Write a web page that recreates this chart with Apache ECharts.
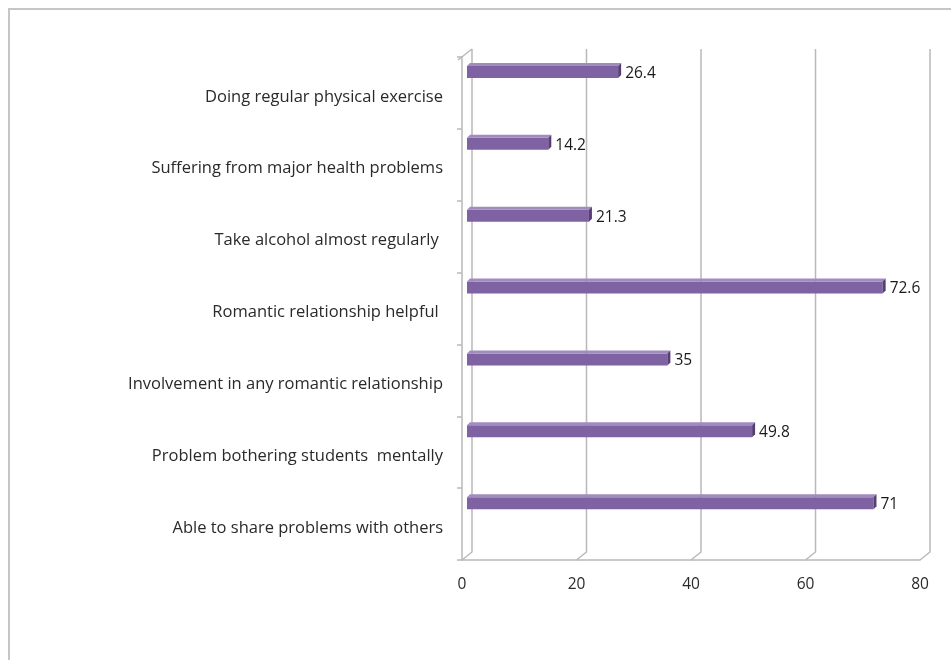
<!DOCTYPE html>
<html>
<head>
<meta charset="utf-8">
<script src="https://cdn.jsdelivr.net/npm/echarts@6/dist/echarts.min.js"></script>
<style>
html,body{margin:0;padding:0;background:#fff;}
#chart{width:951px;height:660px;}
</style>
</head>
<body>
<div id="chart"></div>
<script>
// Categories listed bottom to top
const categories = [
  'Able to share problems with others',
  'Problem bothering students  mentally',
  'Involvement in any romantic relationship',
  'Romantic relationship helpful ',
  'Take alcohol almost regularly ',
  'Suffering from major health problems',
  'Doing regular physical exercise'
];
const values = [71, 49.8, 35, 72.6, 21.3, 14.2, 26.4];
const xTicks = [0, 20, 40, 60, 80];

const FONT = '"Open Sans", sans-serif';
const GRID_COLOR = '#b9b9b9';
const DX = 10, DY = 8; // 3D depth offset of the back wall

const chart = echarts.init(document.getElementById('chart'));

chart.setOption({
  animation: false,
  backgroundColor: '#ffffff',
  graphic: [{
    type: 'rect',
    shape: { x: 9, y: 9, width: 1000, height: 700 },
    style: { fill: 'none', stroke: '#c6c6c6', lineWidth: 2 },
    silent: true
  }],
  grid: { left: 462, right: 31, top: 57, bottom: 100 },
  xAxis: {
    type: 'value',
    min: 0, max: 80, interval: 20,
    splitLine: { show: false },
    axisLine: { show: true, lineStyle: { color: GRID_COLOR, width: 1.5 } },
    axisTick: { show: false },
    axisLabel: { margin: 17, color: '#2a2a2a', fontSize: 15.5, fontFamily: FONT }
  },
  yAxis: {
    type: 'category',
    data: categories,
    axisLine: { show: true, lineStyle: { color: GRID_COLOR, width: 1.5 } },
    axisTick: { show: true, length: 5, lineStyle: { color: GRID_COLOR, width: 1.5 } },
    axisLabel: {
      margin: 19,
      formatter: function (v) { return '{s| }\n{t|' + v + '}'; },
      rich: {
        s: { fontSize: 4, lineHeight: 8 },
        t: { fontSize: 16.5, lineHeight: 20, color: '#2a2a2a', fontFamily: FONT }
      }
    },
    splitLine: { show: false }
  },
  series: [
    {
      type: 'custom',
      name: 'walls',
      silent: true,
      clip: false,
      z: 1,
      data: xTicks.map(v => [v, 0]),
      encode: { x: 0, y: 1 },
      renderItem: function (params, api) {
        const v = api.value(0);
        const cs = params.coordSys;
        const x = api.coord([v, 0])[0];
        const top = cs.y, bottom = cs.y + cs.height;
        const children = [{
          type: 'polyline',
          shape: { points: [[x + DX, top - DY], [x + DX, bottom - DY], [x, bottom]] },
          style: { stroke: GRID_COLOR, lineWidth: 1.5, fill: 'none' }
        }];
        if (v === 0) {
          children.push({
            type: 'line',
            shape: { x1: x - 4, y1: top + 3, x2: x + DX, y2: top - DY },
            style: { stroke: GRID_COLOR, lineWidth: 1.5 }
          });
        }
        return { type: 'group', children: children };
      }
    },
    {
      type: 'custom',
      name: 'bars',
      clip: false,
      z: 2,
      data: values.map((v, i) => [v, i]),
      encode: { x: 0, y: 1 },
      renderItem: function (params, api) {
        const v = api.value(0), i = api.value(1);
        const p0 = api.coord([0, i]);
        const p1 = api.coord([v, i]);
        const band = api.size([0, 1])[1];
        const yc = p0[1] - band / 2 + 14;
        const dx = 5, dep = 3;
        const xa = p0[0] + dx, xb = p1[0] + dx;
        const yt = yc - 5, yb = yc + 7;
        return {
          type: 'group',
          children: [
            { type: 'rect', shape: { x: xa, y: yt, width: xb - xa, height: yb - yt },
              style: { fill: '#7f62a2' } },
            { type: 'polygon', shape: { points: [[xa, yt], [xa + dep, yt - dep], [xb + dep, yt - dep], [xb, yt]] },
              style: { fill: '#a18bbf' } },
            { type: 'polygon', shape: { points: [[xb, yt], [xb + dep, yt - dep], [xb + dep, yb - dep], [xb, yb]] },
              style: { fill: '#563f73' } },
            { type: 'text', style: { x: xb + dep + 4, y: yc + 2.5, text: String(v),
                fill: '#1a1a1a', font: '15.5px ' + FONT, verticalAlign: 'middle', align: 'left' } }
          ]
        };
      }
    }
  ]
});
</script>
</body>
</html>
